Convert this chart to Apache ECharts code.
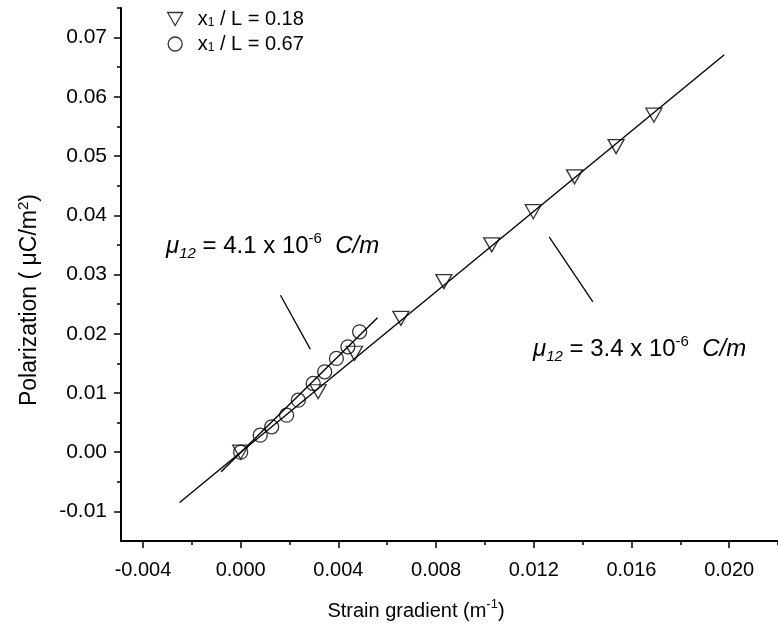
<!DOCTYPE html>
<html><head><meta charset="utf-8">
<script src="https://cdn.jsdelivr.net/npm/echarts@6/dist/echarts.min.js"></script>
<style>html,body{margin:0;padding:0;background:#fff}#c{width:778px;height:641px}</style>
</head><body><div id="c"></div>
<script>
// ---- data ----
const triX = [0.0000, 0.00317, 0.00466, 0.00656, 0.00832, 0.01028, 0.01198, 0.01367, 0.01537, 0.01692];
const triY = [0.0000, 0.0102, 0.0167, 0.0226, 0.0288, 0.0350, 0.0406, 0.0465, 0.0516, 0.0569];
const circX = [0.0000, 0.0008, 0.00127, 0.00188, 0.00236, 0.00297, 0.00344, 0.00392, 0.00439, 0.00487];
const circY = [0.0000, 0.00287, 0.00428, 0.00625, 0.00878, 0.0116, 0.01357, 0.01583, 0.01779, 0.02032];
const fitTriX = [-0.0025, 0.0198];
const fitTriY = [-0.0085, 0.0671];
const fitCircX = [-0.0008, 0.0056];
const fitCircY = [-0.0033, 0.0227];
const lead1X = [0.00163, 0.00285];
const lead1Y = [0.0265, 0.0174];
const lead2X = [0.01263, 0.01442];
const lead2Y = [0.03637, 0.02539];
const xMajor = [-0.004, 0.000, 0.004, 0.008, 0.012, 0.016, 0.020];
const xMinor = [-0.002, 0.002, 0.006, 0.010, 0.014, 0.018, 0.022];
const yMajor = [-0.01, 0.00, 0.01, 0.02, 0.03, 0.04, 0.05, 0.06, 0.07];
const yMinor = [-0.005, 0.005, 0.015, 0.025, 0.035, 0.045, 0.055, 0.065, 0.075];
const legendNames = ['0.18', '0.67'];

const FONT = '"Liberation Sans", Arial, Helvetica, sans-serif';
const zip = (xs, ys) => xs.map((x, i) => [x, ys[i]]);
const TRI = 'path://M0,0L10,0L5,8.66Z';
const XMIN = -0.0049, XMAX = 0.022, YMIN = -0.015, YMAX = 0.075;
const blk = '#000';
const hollow = {color: 'rgba(0,0,0,0)', borderColor: blk, borderWidth: 1.3};
const lineS = (name, xs, ys, w) => ({
  type: 'line', name, data: zip(xs, ys), showSymbol: false, symbol: 'none',
  lineStyle: {color: blk, width: w}, silent: true, z: 3
});

const chart = echarts.init(document.getElementById('c'), null, {renderer: 'canvas'});
const ann = (x, y, val) => ({
  type: 'text', x, y,
  style: {
    text: '{mu|μ}{sub|12}{t| = ' + val + ' x 10}{sup|-6}{t|  }{it|C/m}',
    align: 'left', verticalAlign: 'top',
    rich: {
      mu: {fontSize: 24, fontStyle: 'italic', fontFamily: FONT, lineHeight: 30, fill: blk},
      sub: {fontSize: 15, fontStyle: 'italic', fontFamily: FONT, lineHeight: 14, verticalAlign: 'bottom', fill: blk},
      t: {fontSize: 24, fontFamily: FONT, lineHeight: 30, fill: blk},
      sup: {fontSize: 15, fontFamily: FONT, lineHeight: 14, verticalAlign: 'top', fill: blk},
      it: {fontSize: 24, fontStyle: 'italic', fontFamily: FONT, lineHeight: 30, fill: blk}
    }
  }
});
const option = {
  animation: false,
  backgroundColor: '#fff',
  grid: {left: 121, right: -5, top: 8, bottom: 100},
  xAxis: [{
    type: 'value', min: XMIN, max: XMAX, position: 'bottom',
    axisLine: {onZero: false, lineStyle: {color: blk, width: 2}},
    splitLine: {show: false},
    axisTick: {customValues: xMajor, length: 7, lineStyle: {color: blk, width: 1.5}},
    axisLabel: {customValues: xMajor, formatter: v => v.toFixed(3), color: blk, fontSize: 20, fontFamily: FONT, margin: 19}
  }, {
    type: 'value', min: XMIN, max: XMAX, position: 'bottom',
    axisLine: {show: false, onZero: false}, splitLine: {show: false},
    axisTick: {customValues: xMinor, length: 4, lineStyle: {color: blk, width: 1.5}},
    axisLabel: {show: false}
  }],
  yAxis: [{
    type: 'value', min: YMIN, max: YMAX, position: 'left',
    axisLine: {onZero: false, lineStyle: {color: blk, width: 2}},
    splitLine: {show: false},
    axisTick: {customValues: yMajor, length: 7, lineStyle: {color: blk, width: 1.5}},
    axisLabel: {customValues: yMajor, formatter: v => v.toFixed(2), color: blk, fontSize: 21, fontFamily: FONT, margin: 14}
  }, {
    type: 'value', min: YMIN, max: YMAX, position: 'left',
    axisLine: {show: false, onZero: false}, splitLine: {show: false},
    axisTick: {customValues: yMinor, length: 4, lineStyle: {color: blk, width: 1.5}},
    axisLabel: {show: false}
  }],
  legend: {
    left: 162, top: 4, orient: 'vertical', itemGap: 5, itemWidth: 15, itemHeight: 14,
    selectedMode: false,
    itemStyle: hollow,
    data: [{name: legendNames[0], icon: TRI}, {name: legendNames[1], icon: 'circle'}],
    formatter: n => '{g|}{a|x}{s|1}{a| / L = ' + n + '}',
    textStyle: {
      color: blk, fontFamily: FONT, fontSize: 20,
      rich: {
        g: {width: 10, lineHeight: 20},
        a: {fontSize: 20, fontFamily: FONT, color: blk, lineHeight: 20},
        s: {fontSize: 12, fontFamily: FONT, color: blk, lineHeight: 8, verticalAlign: 'bottom'}
      }
    }
  },
  series: [
    lineS('fitTri', fitTriX, fitTriY, 1.4),
    lineS('fitCirc', fitCircX, fitCircY, 1.4),
    lineS('lead1', lead1X, lead1Y, 1.3),
    lineS('lead2', lead2X, lead2Y, 1.3),
    {type: 'scatter', name: legendNames[0], data: zip(triX, triY), symbol: TRI, symbolSize: [16, 14],
     itemStyle: hollow, z: 4, silent: true},
    {type: 'scatter', name: legendNames[1], data: zip(circX, circY), symbol: 'circle', symbolSize: 14,
     itemStyle: hollow, z: 5, silent: true}
  ],
  graphic: [
    ann(166, 231, '4.1'),
    ann(533, 334, '3.4'),
    {type: 'text', x: 416, y: 611,
     style: {text: '{t|Strain gradient (m}{sup|-1}{t|)}', align: 'center', verticalAlign: 'middle',
       rich: {t: {fontSize: 20, fontFamily: FONT, lineHeight: 26, fill: blk},
              sup: {fontSize: 13, fontFamily: FONT, lineHeight: 13, verticalAlign: 'top', fill: blk}}}},
    {type: 'text', x: 30, y: 300, rotation: Math.PI / 2,
     style: {text: '{t|Polarization ( μC/m}{sup|2}{t|)}', align: 'center', verticalAlign: 'middle',
       rich: {t: {fontSize: 23, fontFamily: FONT, lineHeight: 28, fill: blk},
              sup: {fontSize: 15, fontFamily: FONT, lineHeight: 15, verticalAlign: 'top', fill: blk}}}}
  ]
};
chart.setOption(option);
</script></body></html>
